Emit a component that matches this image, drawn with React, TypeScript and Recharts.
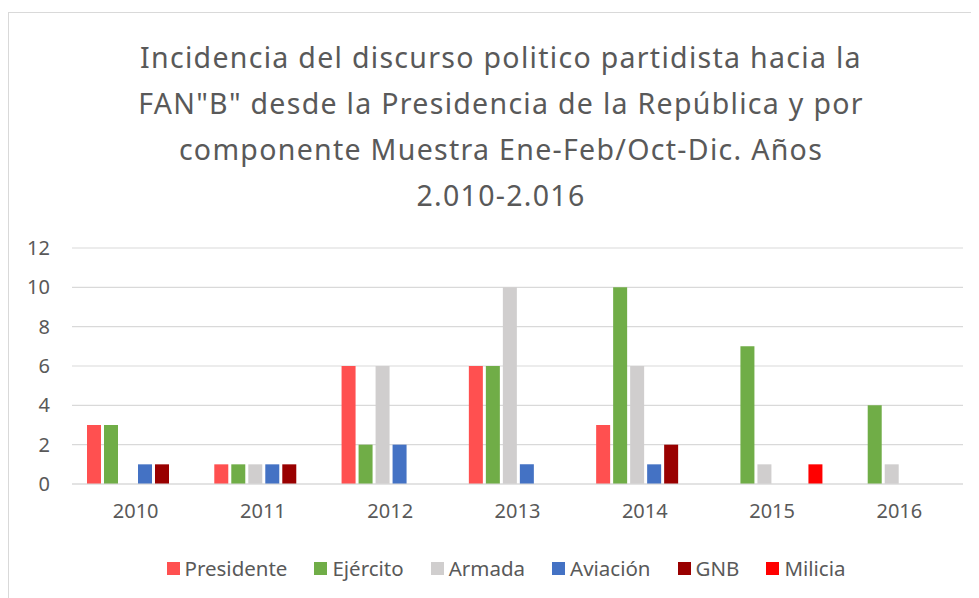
import React from "react"
import { BarChart, Bar, XAxis, YAxis, CartesianGrid } from "recharts"

const years = ["2010", "2011", "2012", "2013", "2014", "2015", "2016"]
const presidente = [3, 1, 6, 6, 3, 0, 0]
const ejercito = [3, 1, 2, 6, 10, 7, 4]
const armada = [0, 1, 6, 10, 6, 1, 1]
const aviacion = [1, 1, 2, 1, 1, 0, 0]
const gnb = [1, 1, 0, 0, 2, 0, 0]
const milicia = [0, 0, 0, 0, 0, 1, 0]
const yTicks = [0, 2, 4, 6, 8, 10, 12]

const titleLines = [
  "Incidencia del discurso politico partidista hacia la",
  "FAN\"B\" desde la Presidencia de la República y por",
  "componente Muestra Ene-Feb/Oct-Dic. Años",
  "2.010-2.016",
]

const series = [
  { key: "presidente", name: "Presidente", color: "#FF5050" },
  { key: "ejercito", name: "Ejército", color: "#70AD47" },
  { key: "armada", name: "Armada", color: "#D0CECE" },
  { key: "aviacion", name: "Aviación", color: "#4472C4" },
  { key: "gnb", name: "GNB", color: "#990000" },
  { key: "milicia", name: "Milicia", color: "#FF0000" },
]

const data = years.map((year, i) => ({
  year,
  presidente: presidente[i],
  ejercito: ejercito[i],
  armada: armada[i],
  aviacion: aviacion[i],
  gnb: gnb[i],
  milicia: milicia[i],
}))

const font = "'Noto Sans', sans-serif"
const textColor = "#595959"

function ChartLegend() {
  return (
    <div
      style={{
        position: "absolute",
        left: 0,
        top: 548,
        width: 996,
        display: "flex",
        justifyContent: "center",
        fontFamily: font,
        fontSize: 20.5,
        lineHeight: "24px",
        color: textColor,
      }}
    >
      {series.map((s, i) => (
        <div
          key={s.key}
          style={{ display: "flex", alignItems: "center", marginLeft: i === 0 ? 0 : 27 }}
        >
          <span
            style={{ width: 13, height: 13, background: s.color, display: "inline-block", marginRight: 5 }}
          />
          <span>{s.name}</span>
        </div>
      ))}
    </div>
  )
}

export default function App() {
  return (
    <div style={{ position: "relative", width: 971, height: 590, overflow: "hidden" }}>
      <div
        style={{
          position: "absolute",
          left: 0,
          top: 4,
          width: 1000,
          height: 700,
          borderLeft: "1px solid #d9d9d9",
          borderTop: "1px solid #d9d9d9",
        }}
      />
      <div
        style={{
          position: "absolute",
          left: 0,
          top: 26,
          width: 986,
          textAlign: "center",
          fontFamily: font,
          fontSize: 28.5,
          letterSpacing: 1.3,
          lineHeight: "46px",
          color: textColor,
        }}
      >
        {titleLines.map((line) => (
          <div key={line}>{line}</div>
        ))}
      </div>
      <div style={{ position: "absolute", left: 0, top: 0 }}>
        <BarChart
          width={971}
          height={590}
          data={data}
          margin={{ top: 240, right: 16, left: 0, bottom: 84 }}
          barCategoryGap={15}
          barGap={3}
        >
          <CartesianGrid vertical={false} stroke="#d9d9d9" strokeWidth={1.2} />
          <XAxis
            dataKey="year"
            axisLine={{ stroke: "#d9d9d9", strokeWidth: 1.2 }}
            tickLine={false}
            tickSize={0}
            tickMargin={20}
            tick={{ fill: textColor, fontFamily: font, fontSize: 20 }}
            height={30}
          />
          <YAxis
            domain={[0, 12]}
            ticks={yTicks}
            axisLine={false}
            tickLine={false}
            tickSize={0}
            tickMargin={22}
            width={64}
            tick={{ fill: textColor, fontFamily: font, fontSize: 20 }}
          />
          {series.map((s) => (
            <Bar key={s.key} dataKey={s.key} name={s.name} fill={s.color} isAnimationActive={false} />
          ))}
        </BarChart>
      </div>
      <ChartLegend />
    </div>
  )
}
